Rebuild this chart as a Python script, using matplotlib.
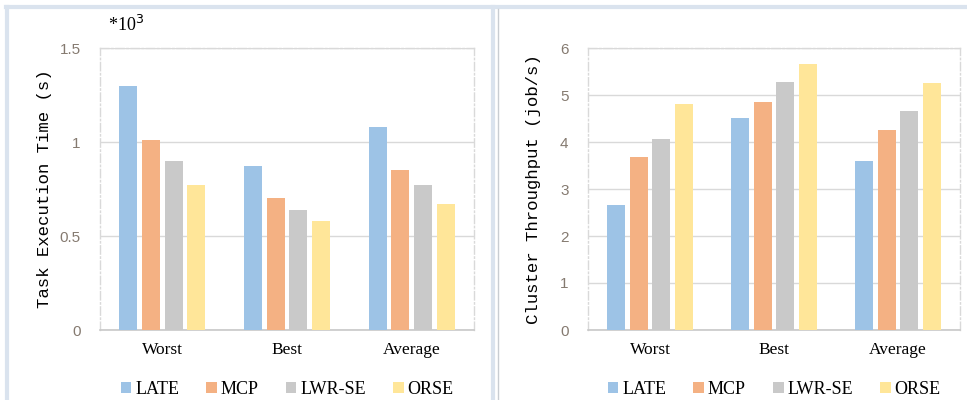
import numpy as np
import matplotlib.pyplot as plt
from matplotlib.lines import Line2D

categories = ["Worst", "Best", "Average"]
methods = ["LATE", "MCP", "LWR-SE", "ORSE"]
colors = ["#9dc3e6", "#f4b183", "#c9c9c9", "#ffe699"]

# task execution time, in units of 10^3 s
exec_time = {
    "LATE": [1.30, 0.87, 1.08],
    "MCP": [1.01, 0.70, 0.85],
    "LWR-SE": [0.90, 0.64, 0.77],
    "ORSE": [0.77, 0.58, 0.67],
}

# cluster throughput, job/s
throughput = {
    "LATE": [2.65, 4.52, 3.59],
    "MCP": [3.68, 4.86, 4.26],
    "LWR-SE": [4.07, 5.28, 4.67],
    "ORSE": [4.80, 5.66, 5.25],
}

tick_color = "#857a70"
grid_color = "#d9d9d9"


def draw_panel(ax, data, ylim, yticks, ytick_labels, ylabel, label_x):
    x = np.arange(len(categories))
    step = 0.182
    width = 0.144
    for i, m in enumerate(methods):
        ax.bar(x + (i - 1.5) * step, data[m], width, color=colors[i], label=m, zorder=3)

    ax.set_xlim(-0.5, 2.5)
    ax.set_ylim(*ylim)
    ax.set_yticks(yticks)
    ax.set_yticklabels(ytick_labels, fontsize=11, color=tick_color, family="Liberation Sans")
    ax.set_xticks(x)
    ax.set_xticklabels(categories, fontsize=12.5, family="Liberation Serif")
    ax.tick_params(length=0, pad=14, axis="y")
    ax.tick_params(length=0, pad=9, axis="x")
    ax.grid(axis="y", color=grid_color, linewidth=1, zorder=0)

    for side in ["left", "top", "right"]:
        ax.spines[side].set_color(grid_color)
        ax.spines[side].set_linestyle((0, (6, 2, 1, 2)))
        ax.spines[side].set_linewidth(1)
    ax.spines["bottom"].set_color("#c8c8c8")
    ax.spines["bottom"].set_linewidth(1.2)

    ax.set_ylabel(ylabel, fontsize=12.5, family="Liberation Mono")
    ax.yaxis.set_label_coords(label_x, 0.5)

    ax.legend(loc="upper center", bbox_to_anchor=(0.5, -0.155), ncol=4, frameon=False,
              prop={"family": "Liberation Serif", "size": 13},
              handlelength=0.6, handleheight=0.6, handletextpad=0.2,
              columnspacing=1.5, borderaxespad=0)


fig = plt.figure(figsize=(9.67, 4.0), dpi=100)

ax1 = fig.add_axes([100 / 967, 70 / 400, 374 / 967, 282 / 400])
draw_panel(ax1, exec_time, (0, 1.5), [0, 0.5, 1, 1.5], ["0", "0.5", "1", "1.5"],
           "Task Execution Time (s)", -0.128)
fig.text(108 / 967, 1 - 25 / 400, r"*10$^3$", fontsize=13, family="Liberation Serif",
         va="center", ha="left")

ax2 = fig.add_axes([588 / 967, 70 / 400, 372 / 967, 282 / 400])
draw_panel(ax2, throughput, (0, 6), range(7), [str(v) for v in range(7)],
           "Cluster Throughput (job/s)", -0.126)

# panel frames
band = "#dae3ee"
W, H = 967.0, 400.0
fig.add_artist(Line2D([6 / W, 1], [1 - 7 / H, 1 - 7 / H], color=band, lw=3))
fig.add_artist(Line2D([6.5 / W, 6.5 / W], [0, 1 - 7 / H], color=band, lw=3))
fig.add_artist(Line2D([493 / W, 493 / W], [0, 1 - 7 / H], color=band, lw=3))
fig.add_artist(Line2D([497.5 / W, 497.5 / W], [0, 1 - 9 / H], color="#c9cdd2", lw=1))

fig.savefig("out.png", dpi=100)
